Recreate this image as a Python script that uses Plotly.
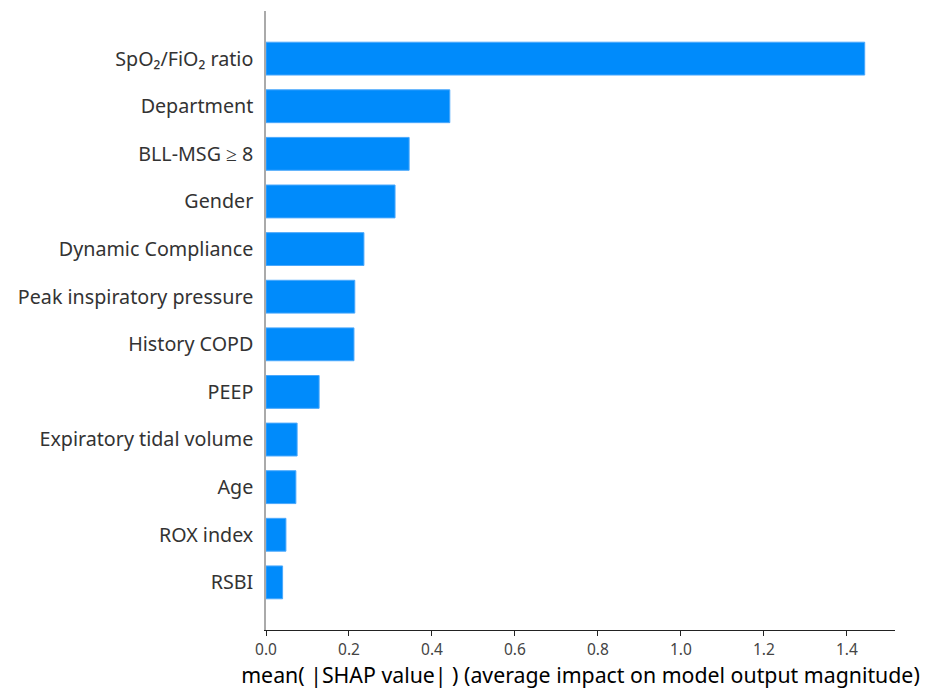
import plotly.graph_objects as go

features = ["SpO₂/FiO₂ ratio", "Department", "BLL-MSG ≥ 8", "Gender",
            "Dynamic Compliance", "Peak inspiratory pressure", "History COPD",
            "PEEP", "Expiratory tidal volume", "Age", "ROX index", "RSBI"]
values = [1.443, 0.443, 0.345, 0.311, 0.236, 0.214, 0.212, 0.128, 0.075, 0.072, 0.048, 0.040]
tick_vals = [0.0, 0.2, 0.4, 0.6, 0.8, 1.0, 1.2, 1.4]
tick_text = ["0.0", "0.2", "0.4", "0.6", "0.8", "1.0", "1.2", "1.4"]

ypos = list(range(len(features)))

fig = go.Figure(go.Bar(
    x=values, y=ypos, orientation="h", width=0.69,
    marker=dict(color="#008BFB", line=dict(color="#4aa8fc", width=1)),
    hoverinfo="skip"))

fig.update_layout(
    width=927, height=695,
    margin=dict(l=266, r=32, t=11, b=65),
    paper_bgcolor="white", plot_bgcolor="white",
    font=dict(family="Noto Sans", color="#333333"),
    showlegend=False,
    xaxis=dict(range=[0, 1.516], tickvals=tick_vals, ticktext=tick_text,
               showgrid=False, zeroline=False, showline=True, linecolor="#222222",
               linewidth=1, ticks="outside", ticklen=5, tickcolor="#222222",
               ticklabelstandoff=0,
               tickfont=dict(size=15.5, color="#444444"),
               title=dict(text="mean( |SHAP value| ) (average impact on model output magnitude)",
                          font=dict(size=21.3, color="#000000"), standoff=3)),
    yaxis=dict(range=[len(features), -1], tickvals=ypos, ticktext=features,
               showgrid=False, zeroline=False, showline=True, linecolor="#aaaaaa",
               linewidth=1.5, ticks="", ticklabelstandoff=7,
               tickfont=dict(size=19.7, color="#333333")),
)

fig.write_html("out.html")
